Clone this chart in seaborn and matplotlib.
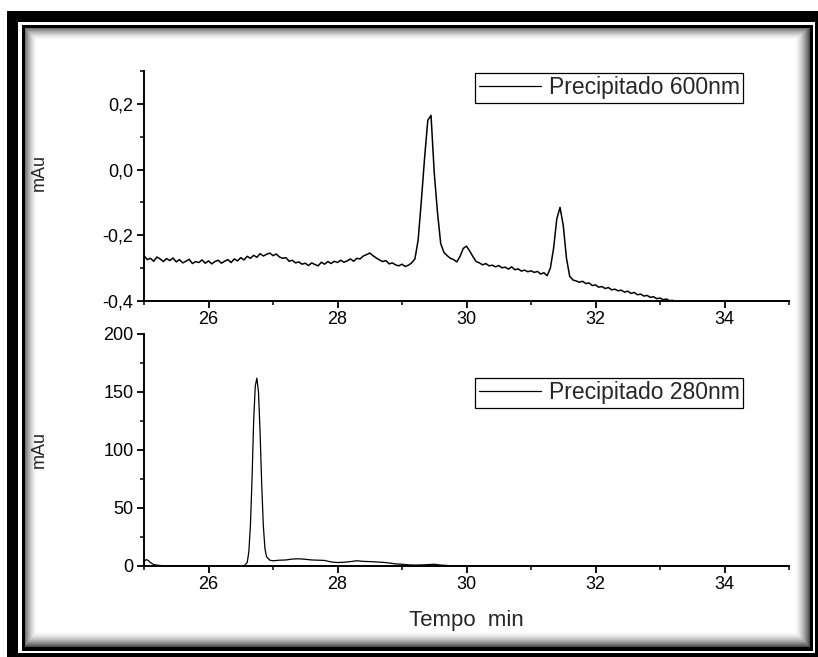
import numpy as np
import matplotlib
matplotlib.use("Agg")
import matplotlib.pyplot as plt
from matplotlib.ticker import MultipleLocator, FuncFormatter
import seaborn as sns

# Absorbance at 600 nm, one reading every 0.05 min starting at 25.00 min
t600_start = 25.0
t600_step = 0.05
a600 = [
    -0.262, -0.274, -0.270, -0.279, -0.266, -0.272, -0.280, -0.271, -0.277, -0.269,
    -0.281, -0.274, -0.284, -0.279, -0.273, -0.286, -0.280, -0.283, -0.275, -0.285,
    -0.278, -0.287, -0.280, -0.276, -0.285, -0.279, -0.274, -0.283, -0.272, -0.278,
    -0.268, -0.275, -0.264, -0.270, -0.261, -0.267, -0.256, -0.263, -0.258, -0.254,
    -0.262, -0.257, -0.266, -0.270, -0.268, -0.279, -0.276, -0.284, -0.281, -0.288,
    -0.285, -0.292, -0.284, -0.289, -0.293, -0.282, -0.288, -0.280, -0.286, -0.279,
    -0.283, -0.276, -0.282, -0.278, -0.272, -0.279, -0.270, -0.272, -0.263, -0.259,
    -0.254, -0.262, -0.269, -0.275, -0.280, -0.277, -0.287, -0.284, -0.290, -0.293,
    -0.288, -0.295, -0.291, -0.284, -0.272, -0.215, -0.095, 0.035, 0.150, 0.165,
    -0.010, -0.130, -0.225, -0.252, -0.262, -0.270, -0.274, -0.281, -0.264, -0.240,
    -0.233, -0.248, -0.265, -0.280, -0.284, -0.290, -0.286, -0.293, -0.291, -0.296,
    -0.292, -0.299, -0.297, -0.303, -0.296, -0.305, -0.302, -0.309, -0.306, -0.311,
    -0.308, -0.313, -0.310, -0.318, -0.314, -0.323, -0.300, -0.240, -0.150, -0.115,
    -0.170, -0.270, -0.325, -0.336, -0.339, -0.343, -0.340, -0.347, -0.345, -0.353,
    -0.351, -0.358, -0.356, -0.362, -0.359, -0.366, -0.364, -0.369, -0.367, -0.373,
    -0.370, -0.377, -0.374, -0.381, -0.379, -0.385, -0.383, -0.389, -0.387, -0.393,
    -0.391, -0.396, -0.394, -0.399, -0.398, -0.403, -0.404,
]
t600 = t600_start + t600_step * np.arange(len(a600))

# Absorbance at 280 nm
t280 = [25.00, 25.03, 25.06, 25.10, 25.15, 25.20, 25.25, 25.30, 26.00, 26.55,
        26.60, 26.625, 26.65, 26.675, 26.70, 26.725, 26.75, 26.775, 26.80, 26.825,
        26.85, 26.875, 26.90, 26.95, 27.00, 27.10, 27.20, 27.30, 27.40, 27.50,
        27.60, 27.70, 27.80, 27.90, 28.00, 28.10, 28.20, 28.30, 28.40, 28.50,
        28.60, 28.70, 28.80, 28.90, 29.00, 29.10, 29.20, 29.30, 29.40, 29.50,
        29.60, 29.70]
a280 = [3.5, 5.5, 5.0, 3.0, 1.2, 0.8, 0.5, 0.2, 0.0, 0.0,
        3.0, 12.0, 35.0, 75.0, 125.0, 155.0, 162.0, 150.0, 115.0, 70.0,
        35.0, 15.0, 8.0, 5.0, 4.5, 5.0, 5.2, 6.0, 6.2, 5.8,
        5.2, 5.0, 4.8, 3.5, 3.0, 3.2, 3.8, 4.5, 4.0, 3.8,
        3.5, 3.2, 2.6, 1.8, 1.5, 1.0, 0.8, 0.9, 1.2, 1.5,
        0.8, 0.5]

label600 = "Precipitado 600nm"
label280 = "Precipitado 280nm"
x_label = "Tempo  min"
y_label = "mAu"
x_major = [26, 28, 30, 32, 34]

sns.set_theme(style="ticks")
plt.rcParams["font.family"] = ["Liberation Sans", "DejaVu Sans"]
plt.rcParams["axes.unicode_minus"] = False

W, H = 818, 657
fig = plt.figure(figsize=(W / 100, H / 100), dpi=100)
fig.patch.set_facecolor("white")

# Picture frame: heavy black border, thin white gap, thin black rule, inner shadow
img = np.ones((H, W))
img[11:657, 7:818] = 0.0
img[22:653, 18:815] = 1.0
img[25:651, 22:813] = 0.0
cx0, cy0, cx1, cy1 = 25, 28, 810, 647
yy, xx = np.mgrid[0:H, 0:W]
shade = np.ones((H, W))
shade = np.minimum(shade, 1 - 0.55 * np.clip(1 - (xx - cx0) / 12.0, 0, 1) ** 1.6)
shade = np.minimum(shade, 1 - 0.55 * np.clip(1 - (yy - cy0) / 12.0, 0, 1) ** 1.6)
shade = np.minimum(shade, 1 - 0.70 * np.clip(1 - (cx1 - 1 - xx) / 15.0, 0, 1) ** 1.6)
shade = np.minimum(shade, 1 - 0.70 * np.clip(1 - (cy1 - 1 - yy) / 15.0, 0, 1) ** 1.6)
img[cy0:cy1, cx0:cx1] = shade[cy0:cy1, cx0:cx1]
bg = fig.add_axes([0, 0, 1, 1], zorder=-10)
bg.imshow(img, cmap="gray", vmin=0, vmax=1, extent=(0, 1, 0, 1),
          aspect="auto", interpolation="nearest")
bg.axis("off")

ax1 = fig.add_axes([144 / W, 1 - 301 / H, 645 / W, 230 / H])
ax2 = fig.add_axes([144 / W, 1 - 566 / H, 645 / W, 232 / H])

sns.lineplot(x=t600, y=a600, ax=ax1, color="black", linewidth=1.1,
             estimator=None, sort=False, label=label600)
sns.lineplot(x=t280, y=a280, ax=ax2, color="black", linewidth=0.9,
             estimator=None, sort=False, label=label280)

comma = FuncFormatter(lambda v, p: f"{v:.1f}".replace(".", ","))

for ax in (ax1, ax2):
    ax.set_facecolor("none")
    sns.despine(ax=ax)
    for s in ("left", "bottom"):
        ax.spines[s].set_linewidth(1.4)
        ax.spines[s].set_color("black")
    ax.set_xlim(25, 35)
    ax.set_xticks(x_major)
    ax.xaxis.set_minor_locator(MultipleLocator(1))
    ax.tick_params(which="major", direction="out", length=5, width=1.3,
                   labelsize=13, pad=2.5, colors="black")
    ax.tick_params(which="minor", direction="out", length=3, width=1.1, colors="black")
    ax.set_ylabel(y_label, fontsize=13)
    ax.set_xlabel("")
    leg = ax.legend(loc="upper right", frameon=True, fancybox=False, shadow=False,
                    fontsize=16.5, handlelength=2.7, handletextpad=0.35,
                    borderpad=0.15, borderaxespad=0, framealpha=1)
    leg.get_frame().set_edgecolor("black")
    leg.get_frame().set_linewidth(0.9)
    for h in leg.get_lines():
        h.set_linewidth(0.9)

ax1.set_ylim(-0.4, 0.3)
ax1.set_yticks([-0.4, -0.2, 0.0, 0.2])
ax1.yaxis.set_minor_locator(MultipleLocator(0.1))
ax1.yaxis.set_major_formatter(comma)
ax1.yaxis.set_label_coords(-0.149, 0.56)
ax1.legend_.set_bbox_to_anchor((743 / W, 1 - 73 / H), transform=fig.transFigure)

ax2.set_ylim(0, 200)
ax2.set_yticks([0, 50, 100, 150, 200])
ax2.yaxis.set_minor_locator(MultipleLocator(25))
ax2.yaxis.set_label_coords(-0.149, 0.5)
ax2.set_xlabel(x_label, fontsize=16)
ax2.xaxis.set_label_coords(0.5, -0.19)
ax2.legend_.set_bbox_to_anchor((743 / W, 1 - 378 / H), transform=fig.transFigure)

fig.savefig("out.png", dpi=100)
